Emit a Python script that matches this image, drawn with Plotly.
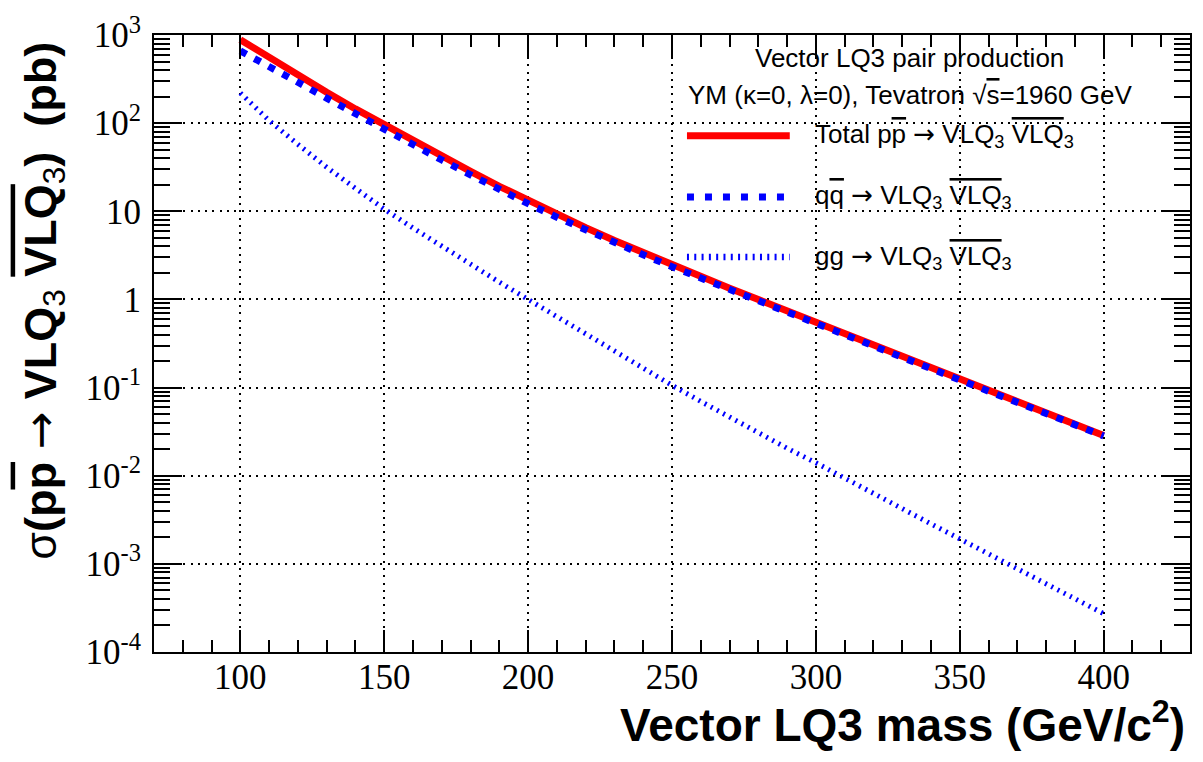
import plotly.graph_objects as go

# Vector leptoquark (LQ3) pair-production cross sections at the Tevatron
mass = [100, 110, 120, 130, 140, 150, 160, 170, 180, 190, 200,
        210, 220, 230, 240, 250, 260, 270, 280, 290, 300,
        310, 320, 330, 340, 350, 360, 370, 380, 390, 400]

sigma_total = [885, 552, 349, 224, 145, 95.7, 63.2, 42.2, 28.4, 19.2, 13.2,
               9.20, 6.52, 4.66, 3.37, 2.46, 1.81, 1.34, 0.995, 0.741, 0.555,
               0.409, 0.303, 0.224, 0.167, 0.124, 0.0923, 0.0687, 0.0513, 0.0383, 0.0286]

sigma_qq = [660, 445, 291, 192, 127, 85.0, 56.7, 38.2, 25.9, 17.6, 12.2,
            8.57, 6.12, 4.40, 3.21, 2.35, 1.74, 1.29, 0.964, 0.720, 0.541,
            0.400, 0.297, 0.220, 0.164, 0.122, 0.0910, 0.0678, 0.0507, 0.0379, 0.0283]

sigma_gg = [220, 107, 57.5, 31.6, 18.2, 10.6, 6.46, 3.98, 2.48, 1.57, 1.00,
            0.634, 0.403, 0.257, 0.164, 0.106, 0.0697, 0.0461, 0.0307, 0.0205, 0.0140,
            0.00933, 0.00627, 0.00422, 0.00284, 0.00192, 0.00129, 0.000873, 0.000590, 0.000400, 0.000272]

y_tickvals = [1e-4, 1e-3, 1e-2, 1e-1, 1, 10, 100, 1000]
y_ticktext = ["10<sup>-4</sup>", "10<sup>-3</sup>", "10<sup>-2</sup>", "10<sup>-1</sup>",
              "1", "10", "10<sup>2</sup>", "10<sup>3</sup>"]

W, H = 1203, 762
L, R, T, B = 154, 11, 27, 110
PW, PH = W - L - R, H - T - B

def px(x):
    return (x - L) / PW

def py(y):
    return (H - B - y) / PH

def ol(s):
    return '<span style="text-decoration:overline">' + s + '</span>'

# wider arrow glyph than the one in Liberation Sans
ARROW = '<span style="font-family:DejaVu Sans">→</span>'

SANS = "Liberation Sans, Arial, sans-serif"
SERIF = "Liberation Serif, Times New Roman, serif"
RED = "#ff0000"
BLUE = "#0000ff"

fig = go.Figure()
fig.add_trace(go.Scatter(x=mass, y=sigma_total, mode="lines",
                         line=dict(color=RED, width=7), showlegend=False))
fig.add_trace(go.Scatter(x=mass, y=sigma_qq, mode="lines",
                         line=dict(color=BLUE, width=7, dash="7px,9px"), showlegend=False))
fig.add_trace(go.Scatter(x=mass, y=sigma_gg, mode="lines",
                         line=dict(color=BLUE, width=5, dash="2px,5px"), showlegend=False))

axis_common = dict(
    showline=True, linecolor="black", linewidth=2, mirror="allticks",
    ticks="inside", tickcolor="black", tickwidth=2,
    showgrid=True, gridcolor="black", gridwidth=2, griddash="2px,5.3px",
    zeroline=False, tickfont=dict(family=SERIF, size=35, color="black"),
)

fig.update_xaxes(range=[70, 430], dtick=50, tick0=0, ticklen=22, ticklabelstandoff=-7,
                 minor=dict(dtick=10, tick0=0, ticks="inside", ticklen=12,
                            tickwidth=2, tickcolor="black", showgrid=False),
                 **axis_common)
fig.update_yaxes(type="log", range=[-4, 3], tickmode="array",
                 tickvals=y_tickvals, ticktext=y_ticktext, ticklen=28, ticklabelstandoff=4,
                 minor=dict(dtick="D1", ticks="inside", ticklen=16,
                            tickwidth=2, tickcolor="black", showgrid=False),
                 **axis_common)

annotations = [
    dict(text="Vector LQ3 pair production", x=px(911), y=py(50),
         font=dict(family=SANS, size=26, color="black")),
    dict(text="YM (κ=0, λ=0), Tevatron √" + ol("s") + "=1960 GeV", x=px(911), y=py(88),
         font=dict(family=SANS, size=26, color="black")),
    dict(text="Total p" + ol("p") + " " + ARROW + " VLQ<sub>3</sub> " + ol("VLQ") + "<sub>3</sub>",
         x=px(814), y=py(129), xanchor="left",
         font=dict(family=SANS, size=26, color="black")),
    dict(text="q" + ol("q") + " " + ARROW + " VLQ<sub>3</sub> " + ol("VLQ") + "<sub>3</sub>",
         x=px(814), y=py(191), xanchor="left",
         font=dict(family=SANS, size=26, color="black")),
    dict(text="gg " + ARROW + " VLQ<sub>3</sub> " + ol("VLQ") + "<sub>3</sub>",
         x=px(814), y=py(252), xanchor="left",
         font=dict(family=SANS, size=26, color="black")),
    dict(text="<b>Vector LQ3 mass (GeV/c<sup>2</sup>)</b>", x=px(1189), y=py(723),
         xanchor="right", font=dict(family=SANS, size=46, color="black")),
    dict(text="σ<b>(p" + ol("p") + "</b> " + ARROW + " <b>VLQ</b><sub>3</sub> <b>" + ol("VLQ")
              + "</b><sub>3</sub><b>)  (pb)</b>",
         x=px(42), y=py(296), textangle=-90,
         font=dict(family=SANS, size=45, color="black")),
]
for a in annotations:
    a.update(xref="paper", yref="paper", showarrow=False)
    a.setdefault("xanchor", "center")
    a.setdefault("yanchor", "middle")

# Legend samples drawn as line shapes
legend_lines = [
    dict(y=129, color=RED, width=7, dash="solid"),
    dict(y=191, color=BLUE, width=7, dash="7px,11px"),
    dict(y=252, color=BLUE, width=6.5, dash="2px,5.3px"),
]
shapes = [dict(type="line", xref="paper", yref="paper",
               x0=px(688), x1=px(791), y0=py(s["y"]), y1=py(s["y"]),
               line=dict(color=s["color"], width=s["width"], dash=s["dash"]))
          for s in legend_lines]

fig.update_layout(
    width=W, height=H, autosize=False,
    margin=dict(l=L, r=R, t=T, b=B),
    plot_bgcolor="white", paper_bgcolor="white",
    annotations=annotations, shapes=shapes,
)

fig.write_html("out.html")
